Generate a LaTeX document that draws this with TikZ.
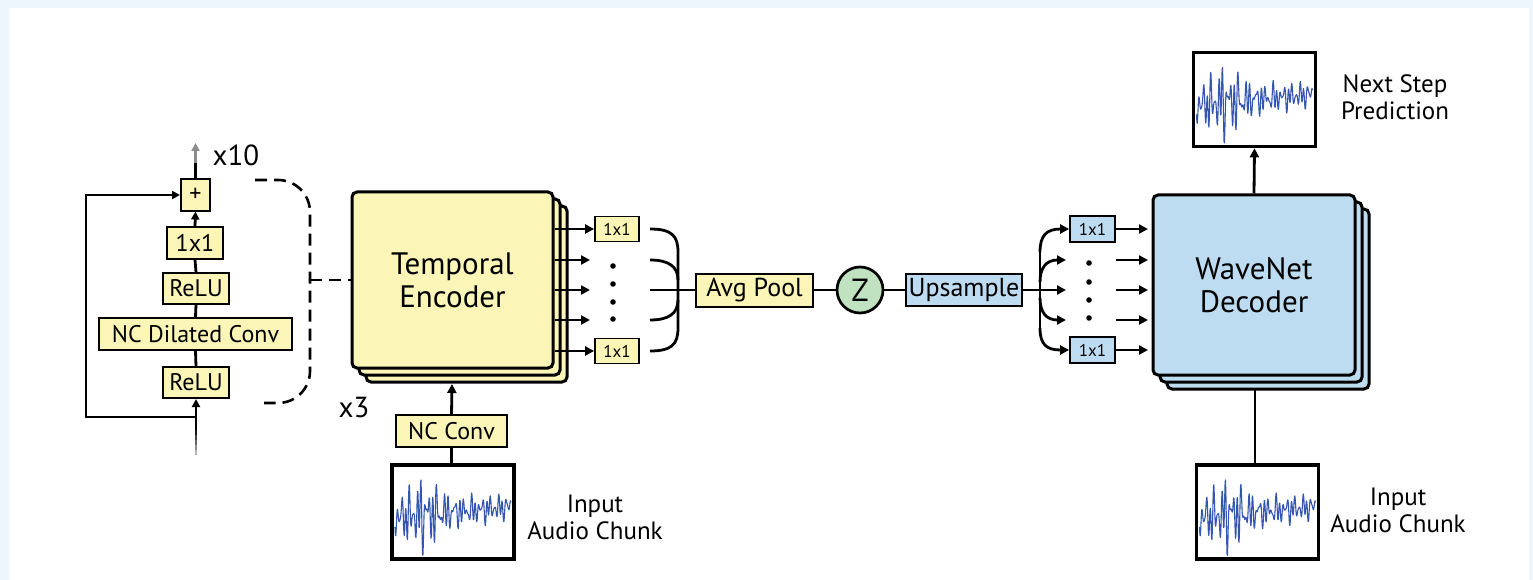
\documentclass[tikz,border=0pt]{standalone}
\usepackage{fontspec}
\setmainfont{PT Sans}
\usetikzlibrary{arrows.meta}
\definecolor{framecol}{RGB}{238,246,253}
\definecolor{yel}{RGB}{251,245,183}
\definecolor{blu}{RGB}{189,220,242}
\definecolor{grn}{RGB}{193,226,192}
\definecolor{wavecol}{RGB}{52,86,176}
\newcommand{\fs}[1]{\fontsize{#1}{\dimexpr #1pt*6/5\relax}\selectfont}
\tikzset{
  tip/.style={-{Triangle[length=9pt,width=9pt]}},
  smalltip/.style={-{Triangle[length=8pt,width=8pt]}},
  ybox/.style={draw, line width=2pt, fill=yel, inner sep=0pt, font=\fs{24}},
  tbox/.style={draw, line width=1.8pt, fill=yel, inner sep=0pt, font=\fs{17}, minimum width=44pt, minimum height=25pt},
  bbox/.style={draw, line width=1.8pt, fill=blu, inner sep=0pt, font=\fs{17}, minimum width=45pt, minimum height=26pt},
  bigbox/.style={draw, line width=3pt, rounded corners=5pt, inner sep=0pt, align=center, font=\fs{31}},
  wbox/.style={draw, line width=3.6pt, fill=white, inner sep=0pt, minimum width=122pt, minimum height=94pt},
  conn/.style={line width=2.8pt},
  lbl/.style={align=center, font=\fs{25}},
  wave/.pic={
    \begin{scope}
      \clip (-59,-45) rectangle (59,45);
      \draw[wavecol, line width=1.1pt, line join=round]
        plot[domain=0:1, samples=300, variable=\t]
        ({-58+116*\t},
         {5 - 10*\t + 30*(0.55 + 0.6*exp(-((\t-0.24)/0.16)^2) - 0.15*\t)*
              (0.55*sin(10800*\t) + 0.35*sin(13900*\t+50) + 0.35*sin(4700*\t+20) + 0.2*sin(7300*\t+130))});
    \end{scope}
  }
}
\begin{document}
\begin{tikzpicture}[x=1pt, y=-1pt]
\useasboundingbox (0,0) rectangle (1533,580);
\fill[framecol] (0,0) rectangle (1533,580);
\fill[white] (9,8) rectangle (1529,580);

% ---------- residual block ----------
\node[ybox, minimum width=29pt, minimum height=31pt] (plus) at (195.5,195) {+};
\node[ybox, minimum width=56pt, minimum height=32pt] (c11) at (195,243) {1x1};
\node[ybox, minimum width=66pt, minimum height=31pt] (relua) at (196,288.5) {ReLU};
\node[ybox, minimum width=193pt, minimum height=32pt] (dil) at (195.5,334) {NC Dilated Conv};
\node[ybox, minimum width=66pt, minimum height=31pt] (relub) at (196,382.5) {ReLU};

\draw[conn, smalltip] (c11.north) -- (plus.south);
\draw[conn] (relua.north) -- (c11.south);
\draw[conn] (dil.north) -- (relua.south);
\draw[conn] (relub.north) -- (dil.south);

\coordinate (inmid) at (196,430);
\foreach \i in {0,...,4}
  \draw[line width=2.8pt, black!\the\numexpr 30+\i*15\relax]
    (196,{455-\i*5}) -- (196,{450-\i*5});
\draw[conn, smalltip] (inmid) -- (relub.south);

% skip connection
\coordinate (skipa) at (196,417);
\coordinate (skipb) at (86,417);
\coordinate (skipc) at (86,195);
\draw[conn, smalltip] (skipa) -- (skipb) -- (skipc) -- (plus.west);

% output, repeated
\coordinate (outa) at (195.5,163);
\coordinate (outb) at (195.5,143);
\draw[conn] (plus.north) -- (outa);
\draw[line width=2.8pt, black!45, -{Triangle[length=8pt,width=8pt]}] (outa) -- (outb);
\node[font=\fs{29}] (x10) at (236,155) {x10};

% ---------- temporal encoder ----------
\draw[line width=3pt, rounded corners=5pt, fill=yel] (366,206) rectangle (567,382);
\draw[line width=3pt, rounded corners=5pt, fill=yel] (359,199) rectangle (560,375);
\node[bigbox, fill=yel, minimum width=201pt, minimum height=176pt] (te) at (452.5,280)
  {Temporal\\[-4pt]Encoder};
\node[font=\fs{29}] (x3) at (354,408) {x3};

% dashed bracket linking block and encoder
\coordinate (da) at (255,180);
\coordinate (db) at (310,180);
\coordinate (dc) at (310,403);
\coordinate (dd) at (264,403);
\coordinate (dm) at (310,280);
\draw[line width=2.6pt, dash pattern=on 12pt off 7pt, rounded corners=32pt] (da) -- (db) -- (dc) -- (dd);
\draw[line width=2.6pt, dash pattern=on 12pt off 7pt] (dm) -- (te.west);

% encoder input
\node[wbox] (inl) at (453,512) {};
\pic at (453,512) {wave};
\node[ybox, minimum width=111pt, minimum height=32pt] (ncc) at (451.5,431) {NC Conv};
\draw[conn] (inl.north -| ncc.south) -- (ncc.south);
\coordinate (tebot) at (452,384);
\draw[conn, tip] (ncc.north) -- (tebot);
\node[lbl] (inltxt) at (595,517) {Input\\[-3pt]Audio Chunk};

% encoder outputs
\node[tbox] (ta) at (617,229) {1x1};
\node[tbox] (tb) at (617,351) {1x1};
\foreach \y/\n in {260/r2,290/r3,320/r4} {
  \coordinate (s\n) at (555,\y);
  \coordinate (e\n) at (590,\y);
  \draw[conn, tip] (s\n) -- (e\n);
}
\coordinate (sr1) at (555,229);
\coordinate (sr5) at (555,351);
\draw[conn, tip] (sr1) -- (ta.west);
\draw[conn, tip] (sr5) -- (tb.west);
\foreach \y in {266,284,302,319}
  \fill (613,\y) circle (2.8pt);

% merge into pooling
\node[ybox, minimum width=117pt, minimum height=33pt, font=\fs{26}] (avg) at (754.5,290) {Avg Pool};
\coordinate (m1) at (650,229);
\coordinate (m2) at (650,260);
\coordinate (m3) at (650,290);
\coordinate (m4) at (650,320);
\coordinate (m5) at (650,351);
\draw[conn] (m1) .. controls (672,229) and (678,236) .. (678,252) -- (678,328)
  .. controls (678,344) and (672,351) .. (m5);
\draw[conn] (m2) .. controls (668,260) and (678,266) .. (678,280);
\draw[conn] (m4) .. controls (668,320) and (678,314) .. (678,300);
\draw[conn] (m3) -- (avg.west);

% latent code
\node[draw, line width=2.7pt, circle, fill=grn, minimum size=46pt, inner sep=0pt, font=\fs{32}] (z) at (860,290) {Z};
\draw[conn] (avg.east) -- (z.west);
\node[draw, line width=2pt, fill=blu, inner sep=0pt, minimum width=116pt, minimum height=32pt, font=\fs{26}] (up) at (964,290) {Upsample};
\draw[conn] (z.east) -- (up.west);

% fork into decoder conditioning
\node[bbox] (ba) at (1092.5,229) {1x1};
\node[bbox] (bb) at (1092.5,350) {1x1};
\coordinate (f3) at (1066,290);
\draw[conn, tip] (up.east) -- (f3);
\draw[conn] (1040,252) -- (1040,328);
\draw[conn, tip] (1040,252) .. controls (1040,236) and (1046,229) .. (ba.west);
\draw[conn, tip] (1040,328) .. controls (1040,344) and (1046,350) .. (bb.west);
\coordinate (f2) at (1066,260);
\coordinate (f4) at (1066,320);
\draw[conn, tip] (1040,282) .. controls (1040,268) and (1046,260) .. (f2);
\draw[conn, tip] (1040,298) .. controls (1040,312) and (1046,320) .. (f4);
\foreach \y in {263,282,300,318}
  \fill (1089,\y) circle (2.8pt);

% ---------- wavenet decoder ----------
\draw[line width=3pt, rounded corners=5pt, fill=blu] (1167,209) rectangle (1369,389);
\draw[line width=3pt, rounded corners=5pt, fill=blu] (1160,202) rectangle (1362,382);
\node[bigbox, fill=blu, minimum width=202pt, minimum height=180pt] (dec) at (1254,285)
  {WaveNet\\[-4pt]Decoder};

\coordinate (db1) at (1148,229);
\draw[conn, tip] (ba.east) -- (db1);
\foreach \y/\n in {260/q2,290/q3,320/q4} {
  \coordinate (s\n) at (1116,\y);
  \coordinate (e\n) at (1148,\y);
  \draw[conn, tip] (s\n) -- (e\n);
}
\coordinate (db5) at (1148,350);
\draw[conn, tip] (bb.east) -- (db5);

% prediction output
\node[wbox] (nxt) at (1254.5,99.5) {};
\pic at (1254.5,99.5) {wave};
\draw[conn, tip] (dec.north) -- (nxt.south);
\node[lbl] (nxttxt) at (1395,97) {Next Step\\[-3pt]Prediction};

% decoder input
\node[wbox] (inr) at (1257.5,512) {};
\pic at (1257.5,512) {wave};
\coordinate (decbot) at (1255,390);
\draw[conn] (decbot) -- (decbot |- inr.north);
\node[lbl] (inrtxt) at (1398,510) {Input\\[-3pt]Audio Chunk};
\end{tikzpicture}
\end{document}
